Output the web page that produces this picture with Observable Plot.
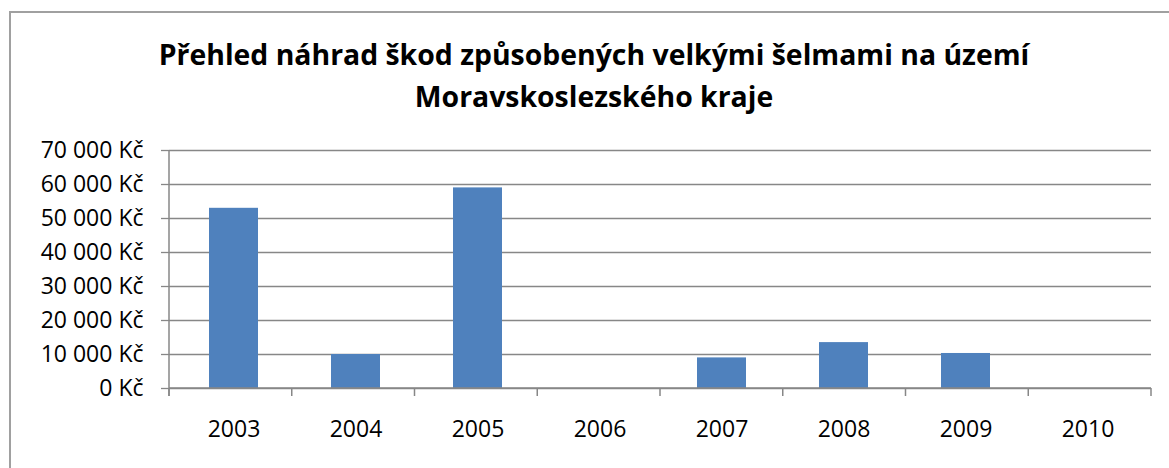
<!DOCTYPE html>
<html><head><meta charset="utf-8">
<script src="https://cdn.jsdelivr.net/npm/d3@7"></script>
<script src="https://cdn.jsdelivr.net/npm/@observablehq/plot@0.6"></script>
<style>
html,body{margin:0;padding:0;background:#fff;overflow:hidden}
body{width:1169px;height:468px;position:relative;font-family:"Open Sans",sans-serif}
#frame{position:absolute;left:9px;top:11px;width:1300px;height:600px;border:2px solid #a0a0a0;box-sizing:border-box;pointer-events:none}
#title{margin:0 0 0 19px;width:1150px;height:130px;text-align:center;font-weight:700;color:#000;box-sizing:border-box;font-family:"Open Sans",sans-serif;line-height:42px}
#chart{position:relative}
</style></head><body>
<div id="frame"></div>
<div id="title"></div>
<div id="chart"></div>
<script>
const titleLines = ["Přehled náhrad škod způsobených velkými šelmami na území", "Moravskoslezského kraje"];
const years = ["2003", "2004", "2005", "2006", "2007", "2008", "2009", "2010"];
const amounts = [53000, 10000, 59000, 0, 9000, 13500, 10300, 0];
const yTicks = [0, 10000, 20000, 30000, 40000, 50000, 60000, 70000];

const fmt = d => d3.format(",")(d).replace(/,/g, " ") + " Kč";

// title: fit first line to reference width
const title = document.getElementById("title");
titleLines.forEach(t => { const d = document.createElement("div"); d.textContent = t; title.appendChild(d); });
const ctx = document.createElement("canvas").getContext("2d");
ctx.font = "700 100px 'Open Sans'";
const w100 = ctx.measureText(titleLines[0]).width;
const fs = 100 * 871 / w100;
title.style.fontSize = fs + "px";
const baselineInLine = (42 - 1.362 * fs) / 2 + 1.069 * fs;
title.style.paddingTop = Math.max(0, 65 - baselineInLine) + "px";

const data = years.map((y, i) => ({year: y, amount: amounts[i]}));

function axisFrame(...args) {
  const dims = args.find(a => a && typeof a === "object" && "marginLeft" in a && "width" in a);
  const {width, height, marginLeft, marginRight, marginTop, marginBottom} = dims;
  const x0 = marginLeft, x1 = width - marginRight, yb = height - marginBottom;
  const n = years.length;
  const g = d3.create("svg:g").attr("stroke", "#878787").attr("stroke-width", 1.5);
  g.append("line").attr("x1", x0).attr("x2", x0).attr("y1", marginTop).attr("y2", yb + 8);
  g.append("line").attr("x1", x0).attr("x2", x1).attr("y1", yb).attr("y2", yb);
  d3.range(n + 1).forEach(i => {
    const xx = x0 + i * (x1 - x0) / n;
    g.append("line").attr("x1", xx).attr("x2", xx).attr("y1", yb).attr("y2", yb + 8);
  });
  return g.node();
}

const plot = Plot.plot({
  width: 1169, height: 338,
  marginLeft: 169, marginRight: 18, marginTop: 20, marginBottom: 80,
  style: {fontFamily: "'Open Sans', sans-serif", fontSize: "23px", color: "#000", background: "transparent"},
  x: {domain: years, paddingInner: 0.6, paddingOuter: 0.3, label: null},
  y: {domain: [0, 70000], label: null},
  marks: [
    Plot.gridY(yTicks, {stroke: "#878787", strokeOpacity: 1, strokeWidth: 1.3}),
    Plot.axisY(yTicks, {tickSize: 8, tickPadding: 18, tickFormat: fmt, stroke: "#878787", strokeOpacity: 1, strokeWidth: 1.3, fill: "#000", fontSize: 23, label: null}),
    Plot.axisX({tickSize: 0, tickPadding: 32, fill: "#000", fontSize: 23, label: null}),
    Plot.barY(data, {x: "year", y: "amount", fill: "#4F81BD"}),
    axisFrame
  ]
});
document.getElementById("chart").appendChild(plot);
</script>
</body></html>
